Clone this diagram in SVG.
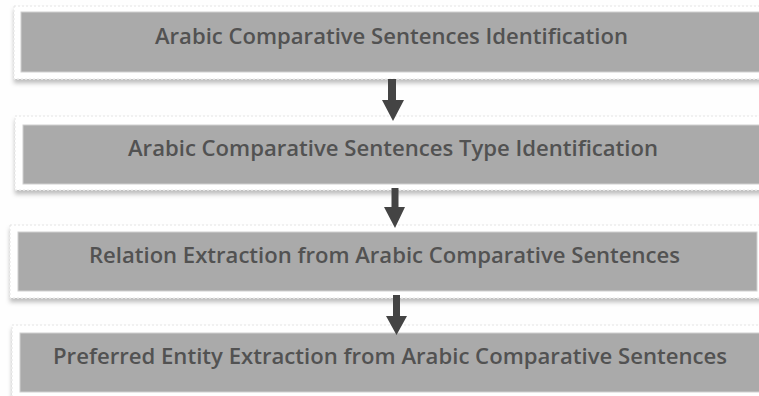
<svg xmlns="http://www.w3.org/2000/svg" width="759" height="396" viewBox="0 0 759 396">
  <defs>
    <filter id="sh" x="-5%" y="-20%" width="110%" height="150%">
      <feDropShadow dx="0" dy="4" stdDeviation="2" flood-color="#000" flood-opacity="0.25"/>
    </filter>
  </defs>
  <style>
    .card { fill: #ffffff; stroke: #e4e4e4; stroke-width: 1; stroke-dasharray: 2 2; filter: url(#sh); }
    .box { fill: #aaaaaa; stroke: #d0d0d0; stroke-width: 1; }
    .lbl { font-family: "Open Sans", "Noto Sans", "Liberation Sans", sans-serif; font-weight: 600; font-size: 21px; fill: #525252; text-anchor: middle; }
    .arr { fill: #444444; }
  </style>
  <rect width="759" height="396" fill="#fefefe"/>

  <g id="node1">
    <rect class="card" x="14" y="6" width="760" height="73"/>
    <rect class="box" x="21" y="12" width="750" height="60"/>
    <text class="lbl" x="391.5" y="43.5" textLength="473" lengthAdjust="spacingAndGlyphs">Arabic Comparative Sentences Identification</text>
  </g>

  <g id="node2">
    <rect class="card" x="15" y="116" width="760" height="74"/>
    <rect class="box" x="23" y="125" width="750" height="59"/>
    <text class="lbl" x="393" y="155.5" textLength="530" lengthAdjust="spacingAndGlyphs">Arabic Comparative Sentences Type Identification</text>
  </g>

  <g id="node3">
    <rect class="card" x="10" y="225" width="760" height="73"/>
    <rect class="box" x="18" y="232" width="739" height="59"/>
    <text class="lbl" x="384.5" y="262.5" textLength="591" lengthAdjust="spacingAndGlyphs">Relation Extraction from Arabic Comparative Sentences</text>
  </g>

  <g id="node4">
    <rect class="card" x="12" y="325" width="760" height="80"/>
    <rect class="box" x="20" y="333" width="750" height="59"/>
    <text class="lbl" x="390" y="364" textLength="674" lengthAdjust="spacingAndGlyphs">Preferred Entity Extraction from Arabic Comparative Sentences</text>
  </g>

  <g id="connectors">
    <path class="arr" d="M388 79 H396 V100 H404 L393 121 L382 100 H388 Z"/>
    <path class="arr" d="M391.5 188 H398.5 V207 H405 L395 228 L384 207 H391.5 Z"/>
    <path class="arr" d="M393 295 H400 V316 H407 L396.5 335 L386 316 H393 Z"/>
  </g>
</svg>
